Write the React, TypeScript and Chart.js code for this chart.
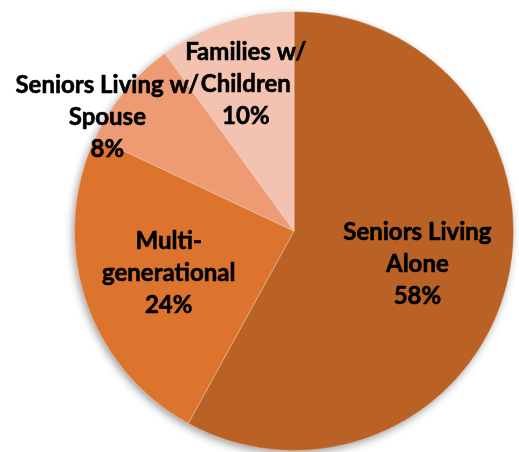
import React, { useEffect, useRef } from "react";
import { Chart, registerables } from "chart.js";

Chart.register(...registerables);

const categories = [
  "Seniors Living Alone",
  "Multi-generational",
  "Seniors Living w/ Spouse",
  "Families w/Children",
];
const labelLines = [
  ["Seniors Living", "Alone"],
  ["Multi-", "generational"],
  ["Seniors Living w/", "Spouse"],
  ["Families w/", "Children"],
];
const values = [58, 24, 8, 10];
const colors = ["#BA6226", "#DC742E", "#EE9A72", "#F4C2B1"];

// label placement (fraction of radius, angle shift in degrees)
const labelRadius = [0.58, 0.6, 1.0, 0.71];
const labelShift = [0, 0, -7.8, 0];

const W = 519;
const H = 452;

export default function App() {
  const ref = useRef<HTMLCanvasElement | null>(null);

  useEffect(() => {
    if (!ref.current) return;
    const shadowPlugin = {
      id: "pieShadow",
      beforeDatasetsDraw(chart: any) {
        const meta = chart.getDatasetMeta(0);
        const el = meta.data[0];
        if (!el) return;
        const { x, y, outerRadius } = el.getProps(["x", "y", "outerRadius"], true);
        const ctx = chart.ctx;
        ctx.save();
        ctx.shadowColor = "rgba(0,0,0,0.4)";
        ctx.shadowBlur = 8;
        ctx.shadowOffsetX = -2;
        ctx.shadowOffsetY = 3;
        ctx.fillStyle = colors[0];
        ctx.beginPath();
        ctx.arc(x, y, outerRadius - 0.5, 0, Math.PI * 2);
        ctx.fill();
        ctx.restore();
      },
    };
    const labelPlugin = {
      id: "sliceLabels",
      afterDatasetsDraw(chart: any) {
        const meta = chart.getDatasetMeta(0);
        const ctx = chart.ctx;
        ctx.save();
        ctx.fillStyle = "#000000";
        ctx.strokeStyle = "#000000";
        ctx.lineWidth = 0.6;
        ctx.lineJoin = "round";
        ctx.font = "bold 24px Lato, 'Open Sans', sans-serif";
        ctx.textAlign = "center";
        ctx.textBaseline = "middle";
        meta.data.forEach((el: any, i: number) => {
          const { x, y, startAngle, endAngle, outerRadius } = el.getProps(
            ["x", "y", "startAngle", "endAngle", "outerRadius"],
            true
          );
          const mid = (startAngle + endAngle) / 2 + (labelShift[i] * Math.PI) / 180;
          const r = outerRadius * labelRadius[i];
          const cx = x + Math.cos(mid) * r;
          const cy = y + Math.sin(mid) * r + 2;
          const lines = [...labelLines[i], `${values[i]}%`];
          const lh = 32;
          lines.forEach((t, k) => {
            const ty = cy + (k - (lines.length - 1) / 2) * lh;
            ctx.fillText(t, cx, ty);
            ctx.strokeText(t, cx, ty);
          });
        });
        ctx.restore();
      },
    };
    const chart = new Chart(ref.current, {
      type: "pie",
      data: {
        labels: categories,
        datasets: [
          {
            data: values,
            backgroundColor: colors,
            borderColor: "rgba(255,255,255,0.45)",
            borderWidth: 0.75,
          },
        ],
      },
      options: {
        responsive: false,
        animation: false,
        layout: { padding: { left: 74, right: 5, top: 11, bottom: 1 } },
        plugins: {
          legend: { display: false },
          tooltip: { enabled: false },
        },
      },
      plugins: [shadowPlugin, labelPlugin],
    });
    return () => chart.destroy();
  }, []);

  return (
    <div style={{ position: "fixed", left: 0, top: 0, width: W, height: H, background: "#ffffff" }}>
      <canvas ref={ref} width={W} height={H} style={{ width: W, height: H, display: "block" }} />
    </div>
  );
}
